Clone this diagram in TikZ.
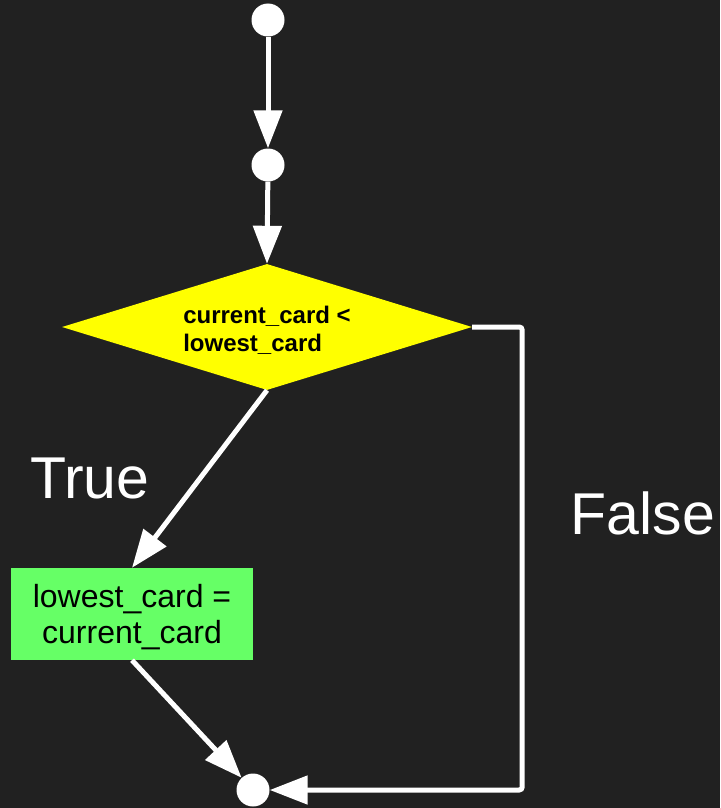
\documentclass[tikz,border=0pt]{standalone}
\usepackage{fontspec}
\setmainfont{Liberation Sans}
\usetikzlibrary{arrows.meta,shapes.geometric}
\definecolor{bg}{HTML}{212121}
\definecolor{dyellow}{HTML}{FFFF00}
\definecolor{bgreen}{HTML}{66FF66}
\tikzset{
  dot/.style={circle, fill=white, inner sep=0pt, minimum size=33pt},
  arr/.style={white, line width=5pt, -{Triangle[length=38pt,width=28pt]}},
  lbl/.style={white, font=\fontsize{59}{64}\selectfont, inner sep=0pt},
}
\begin{document}
\begin{tikzpicture}[x=1pt,y=-1pt]
\fill[bg] (0,0) rectangle (720,808);
\useasboundingbox (0,0) rectangle (720,808);
\node[dot] (c1) at (268,20) {};
\node[dot] (c2) at (268,165) {};
\node[diamond, fill=dyellow, minimum width=410pt, minimum height=126pt, inner sep=0pt] (d) at (267,327) {};
\node[align=left, font=\fontsize{24}{28}\selectfont\bfseries, inner sep=0pt] (dtext) at (267,330) {current\_card <\\lowest\_card};
\node[rectangle, fill=bgreen, minimum width=242pt, minimum height=92pt, inner sep=0pt, align=center, font=\fontsize{32}{36}\selectfont] (box) at (132,614) {};
\node[align=center, font=\fontsize{32}{36}\selectfont, inner sep=0pt] (btext) at (132,617) {lowest\_card =\\current\_card};
\node[dot] (c3) at (253,790) {};
\node[lbl] (t) at (90,478) {True};
\node[lbl] (f) at (643,513) {False};
\draw[arr] (c1) -- (c2);
\draw[arr] (c2) -- (d.north);
\draw[arr] (d.south) -- (box.north);
\draw[arr] (box.south) -- (c3);
\draw[arr, rounded corners=3pt] (d.east) -- ++(50,0) |- (c3);
\end{tikzpicture}
\end{document}
